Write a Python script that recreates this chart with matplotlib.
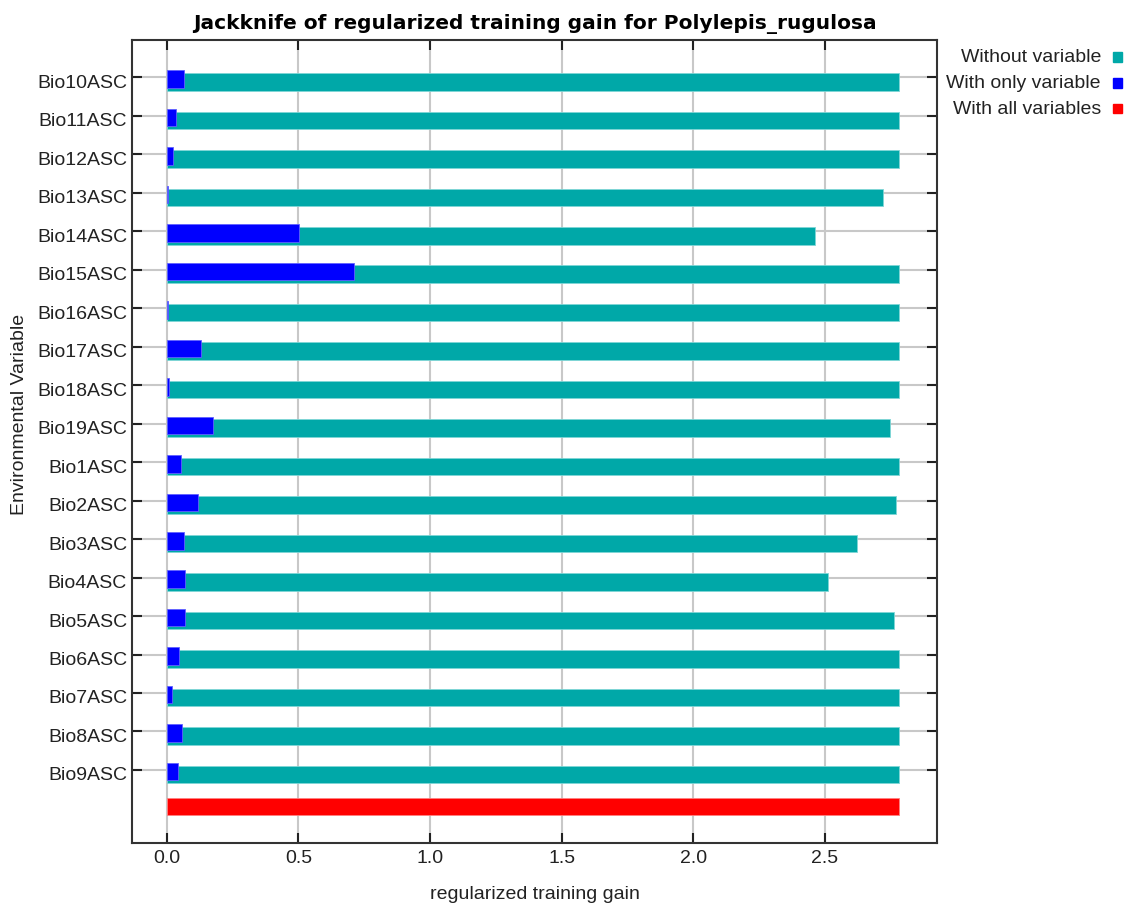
import matplotlib.pyplot as plt
import matplotlib.transforms as mtransforms
import numpy as np

plt.rcParams['font.family'] = ['Liberation Sans', 'DejaVu Sans']

variables = ['Bio10ASC', 'Bio11ASC', 'Bio12ASC', 'Bio13ASC', 'Bio14ASC', 'Bio15ASC',
             'Bio16ASC', 'Bio17ASC', 'Bio18ASC', 'Bio19ASC', 'Bio1ASC', 'Bio2ASC',
             'Bio3ASC', 'Bio4ASC', 'Bio5ASC', 'Bio6ASC', 'Bio7ASC', 'Bio8ASC', 'Bio9ASC']
without_var = [2.78, 2.78, 2.78, 2.722, 2.462, 2.78, 2.78, 2.78, 2.78, 2.746,
               2.78, 2.771, 2.623, 2.512, 2.763, 2.78, 2.78, 2.78, 2.78]
only_var = [0.066, 0.034, 0.023, 0.004, 0.504, 0.713, 0.003, 0.13, 0.01, 0.176,
            0.053, 0.12, 0.065, 0.071, 0.071, 0.047, 0.02, 0.058, 0.041]
all_vars = 2.78

teal = '#00a8a8'
blue = '#0000ff'
red = '#ff0000'

fig = plt.figure(figsize=(11.25, 9.06), dpi=100)
ax = fig.add_axes([0.1173, 0.0695, 0.7156, 0.8863])

pos = np.arange(len(variables))
h = 0.455
ax.barh(pos + 0.117, without_var, height=h, color=teal, edgecolor='#7fd6d6', linewidth=0.6, zorder=3)
ax.barh(pos + 0.044, only_var, height=h, color=blue, edgecolor='#6060ff', linewidth=0.6, zorder=4)
ax.barh([18.95], [all_vars], height=h, color=red, edgecolor='#ff8080', linewidth=0.6, zorder=3)

ax.set_xlim(-0.132, 2.926)
ax.set_ylim(19.9, -0.97)
ax.set_xticks([0.0, 0.5, 1.0, 1.5, 2.0, 2.5])
ax.set_xticklabels(['0.0', '0.5', '1.0', '1.5', '2.0', '2.5'])
ax.set_yticks(pos)
ax.set_yticklabels(variables)
ax.grid(True, color='#c8c8c8', linewidth=1.5, zorder=0)
ax.set_axisbelow(True)
ax.tick_params(direction='in', length=7, width=1.5, top=True, right=True,
               labelsize=14, colors='#222222')
ax.tick_params(axis='y', pad=3.5)
ax.tick_params(axis='x', pad=5)
for s in ax.spines.values():
    s.set_linewidth(1.5)
    s.set_color('#333333')

# nudge the variable names down a little, level with the bars
shift = mtransforms.ScaledTranslation(0, -4 / 100, fig.dpi_scale_trans)
for lab in ax.get_yticklabels():
    lab.set_transform(lab.get_transform() + shift)

ax.set_title('Jackknife of regularized training gain for Polylepis_rugulosa',
             fontsize=14.5, fontweight='bold', family='DejaVu Sans', pad=8)
ax.set_xlabel('regularized training gain', fontsize=14, color='#222222', labelpad=14)
ax.set_ylabel('Environmental Variable', fontsize=14, color='#222222')
ax.yaxis.set_label_coords(-0.129, 0.534)

# legend drawn as text plus colored squares
legend_items = [('Without variable', teal), ('With only variable', blue), ('With all variables', red)]
for k, (label, c) in enumerate(legend_items):
    y = 1 - 57 / 906 - k * 26 / 906
    fig.text(1101 / 1125, y, label, ha='right', va='center', fontsize=14, color='#222222')
    fig.patches.append(plt.Rectangle((1113 / 1125, y - 4.5 / 906), 9 / 1125, 9 / 906,
                                     transform=fig.transFigure, color=c, figure=fig))

plt.savefig('out.png', dpi=100)
